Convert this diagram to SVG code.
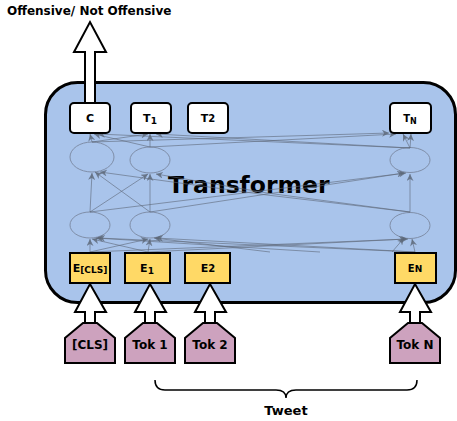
<svg xmlns="http://www.w3.org/2000/svg" width="457" height="421" viewBox="0 0 457 421">
<defs>
<marker id="ah" viewBox="0 0 10 10" refX="10" refY="5" markerWidth="7" markerHeight="7" markerUnits="userSpaceOnUse" orient="auto">
<path d="M0,0 L10,5 L0,10 L3,5 Z" fill="#5d6878" fill-opacity="0.8"/>
</marker>
<style>
text{font-family:"DejaVu Sans",Verdana,sans-serif;font-weight:bold;fill:#000}
.box{fill:#fff;stroke:#000;stroke-width:2}
.emb{fill:#FFD966;stroke:#000;stroke-width:2}
.tok{fill:#CDA2BE;stroke:#000;stroke-width:2}
.big{fill:#fff;stroke:#000;stroke-width:2}
.ell{fill:none;stroke:#7f8ea8;stroke-width:1}
.e{stroke:#5d6878;stroke-opacity:0.6;stroke-width:1;fill:none;marker-end:url(#ah)}
.lbl{font-size:11px;text-anchor:middle}
.tl{font-size:12px;text-anchor:middle}
</style>
</defs>
<rect id="transformer" x="45.5" y="82.5" width="410" height="220" rx="32" ry="32" fill="#A9C4EB" stroke="#000" stroke-width="3"/>
<text x="168" y="193" style="font-size:23.5px">Transformer</text>
<g id="ellipses">
<ellipse class="ell" cx="92" cy="157" rx="22" ry="15"/>
<ellipse class="ell" cx="150" cy="160" rx="20" ry="13"/>
<ellipse class="ell" cx="410" cy="160" rx="20" ry="12.5"/>
<ellipse class="ell" cx="90" cy="225" rx="20" ry="13"/>
<ellipse class="ell" cx="150" cy="225" rx="20" ry="13"/>
<ellipse class="ell" cx="410" cy="225.5" rx="20" ry="13"/>
</g>
<g id="connectors">
<line class="e" x1="90" y1="252" x2="90" y2="239"/>
<line class="e" x1="90" y1="252" x2="148" y2="239"/>
<line class="e" x1="90" y1="252" x2="408" y2="239"/>
<line class="e" x1="148" y1="252" x2="92" y2="239"/>
<line class="e" x1="148" y1="252" x2="150" y2="239"/>
<line class="e" x1="148" y1="252" x2="406" y2="239"/>
<line class="e" x1="320" y1="252" x2="96" y2="238"/>
<line class="e" x1="270" y1="252" x2="154" y2="238"/>
<line class="e" x1="392" y1="252" x2="404" y2="238"/>
<line class="e" x1="415" y1="252" x2="98" y2="238"/>
<line class="e" x1="415" y1="252" x2="156" y2="238"/>
<line class="e" x1="415" y1="252" x2="412" y2="239"/>
<line class="e" x1="90" y1="212" x2="92" y2="173"/>
<line class="e" x1="90" y1="212" x2="148" y2="174"/>
<line class="e" x1="90" y1="212" x2="406" y2="173"/>
<line class="e" x1="150" y1="212" x2="95" y2="172"/>
<line class="e" x1="150" y1="212" x2="150" y2="174"/>
<line class="e" x1="150" y1="212" x2="404" y2="173"/>
<polyline class="e" points="410,212 267,195 100,172"/>
<polyline class="e" points="410,212 267,193 156,174"/>
<line class="e" x1="410" y1="212" x2="410" y2="174"/>
<line class="e" x1="92" y1="142" x2="90" y2="134"/>
<line class="e" x1="92" y1="142" x2="148" y2="134"/>
<line class="e" x1="92" y1="142" x2="389" y2="133"/>
<line class="e" x1="150" y1="147" x2="94" y2="134"/>
<line class="e" x1="150" y1="147" x2="150" y2="134"/>
<line class="e" x1="150" y1="147" x2="396" y2="134"/>
<line class="e" x1="410" y1="148" x2="98" y2="134"/>
<line class="e" x1="410" y1="148" x2="156" y2="134"/>
<line class="e" x1="410" y1="148" x2="403" y2="134"/>
<line class="e" x1="410" y1="148" x2="411" y2="134"/>
</g>
<g id="out-arrow">
<polygon class="big" points="85,103 85,52 74,52 90,22 106,52 95,52 95,103"/>
<text x="7" y="15" style="font-size:12px">Offensive/ Not Offensive</text>
</g>
<g id="C"><rect class="box" x="70" y="103" width="40" height="30" rx="4"/><text class="lbl" x="90" y="122">C</text></g>
<g id="T1"><rect class="box" x="131" y="103" width="40" height="30" rx="4"/><text class="lbl" x="150" y="122">T<tspan font-size="9" dy="2">1</tspan></text></g>
<g id="T2"><rect class="box" x="188" y="103" width="40" height="30" rx="4"/><text class="lbl" x="208" y="122">T<tspan font-size="10">2</tspan></text></g>
<g id="TN"><rect class="box" x="390" y="103" width="41" height="30" rx="4"/><text class="lbl" x="410" y="122" style="font-size:10px">T<tspan font-size="8" dy="2">N</tspan></text></g>
<g id="E_CLS"><rect class="emb" x="70" y="253" width="40" height="30"/><text class="lbl" x="90" y="272">E<tspan font-size="9" dy="1">[CLS]</tspan></text></g>
<g id="E1"><rect class="emb" x="125" y="253" width="45" height="30"/><text class="lbl" x="147" y="272">E<tspan font-size="9" dy="2">1</tspan></text></g>
<g id="E2"><rect class="emb" x="185" y="253" width="45" height="30"/><text class="lbl" x="208" y="272">E<tspan font-size="10">2</tspan></text></g>
<g id="EN"><rect class="emb" x="395" y="253" width="41" height="30"/><text class="lbl" x="415" y="272" style="font-size:10px">E<tspan font-size="9">N</tspan></text></g>
<g id="tok_cls">
<polygon class="tok" points="83,323 97,323 115,338 115,363 65,363 65,338"/>
<polygon class="big" points="85,323 85,312 75,312 90,284 106,312 95,312 95,323"/>
<text class="tl" x="90" y="349">[CLS]</text>
</g>
<g id="tok1">
<polygon class="tok" points="143,323 157,323 175,338 175,363 125,363 125,338"/>
<polygon class="big" points="145,323 145,312 135,312 150,284 166,312 155,312 155,323"/>
<text class="tl" x="150" y="349">Tok 1</text>
</g>
<g id="tok2">
<polygon class="tok" points="203,323 217,323 235,338 235,363 185,363 185,338"/>
<polygon class="big" points="205,323 205,312 195,312 210,284 226,312 215,312 215,323"/>
<text class="tl" x="210" y="349">Tok 2</text>
</g>
<g id="tokN">
<polygon class="tok" points="408,323 422,323 440,338 440,363 390,363 390,338"/>
<polygon class="big" points="410,323 410,312 400,312 415,284 431,312 420,312 420,323"/>
<text class="tl" x="415" y="349">Tok N</text>
</g>
<g id="tweet">
<path d="M155,380 Q155,390 165,390 L276,390 Q286,390 286,398 Q286,390 296,390 L407,390 Q417,390 417,380" fill="none" stroke="#000" stroke-width="1.5"/>
<text x="286" y="415" style="font-size:13px;text-anchor:middle">Tweet</text>
</g>
</svg>
